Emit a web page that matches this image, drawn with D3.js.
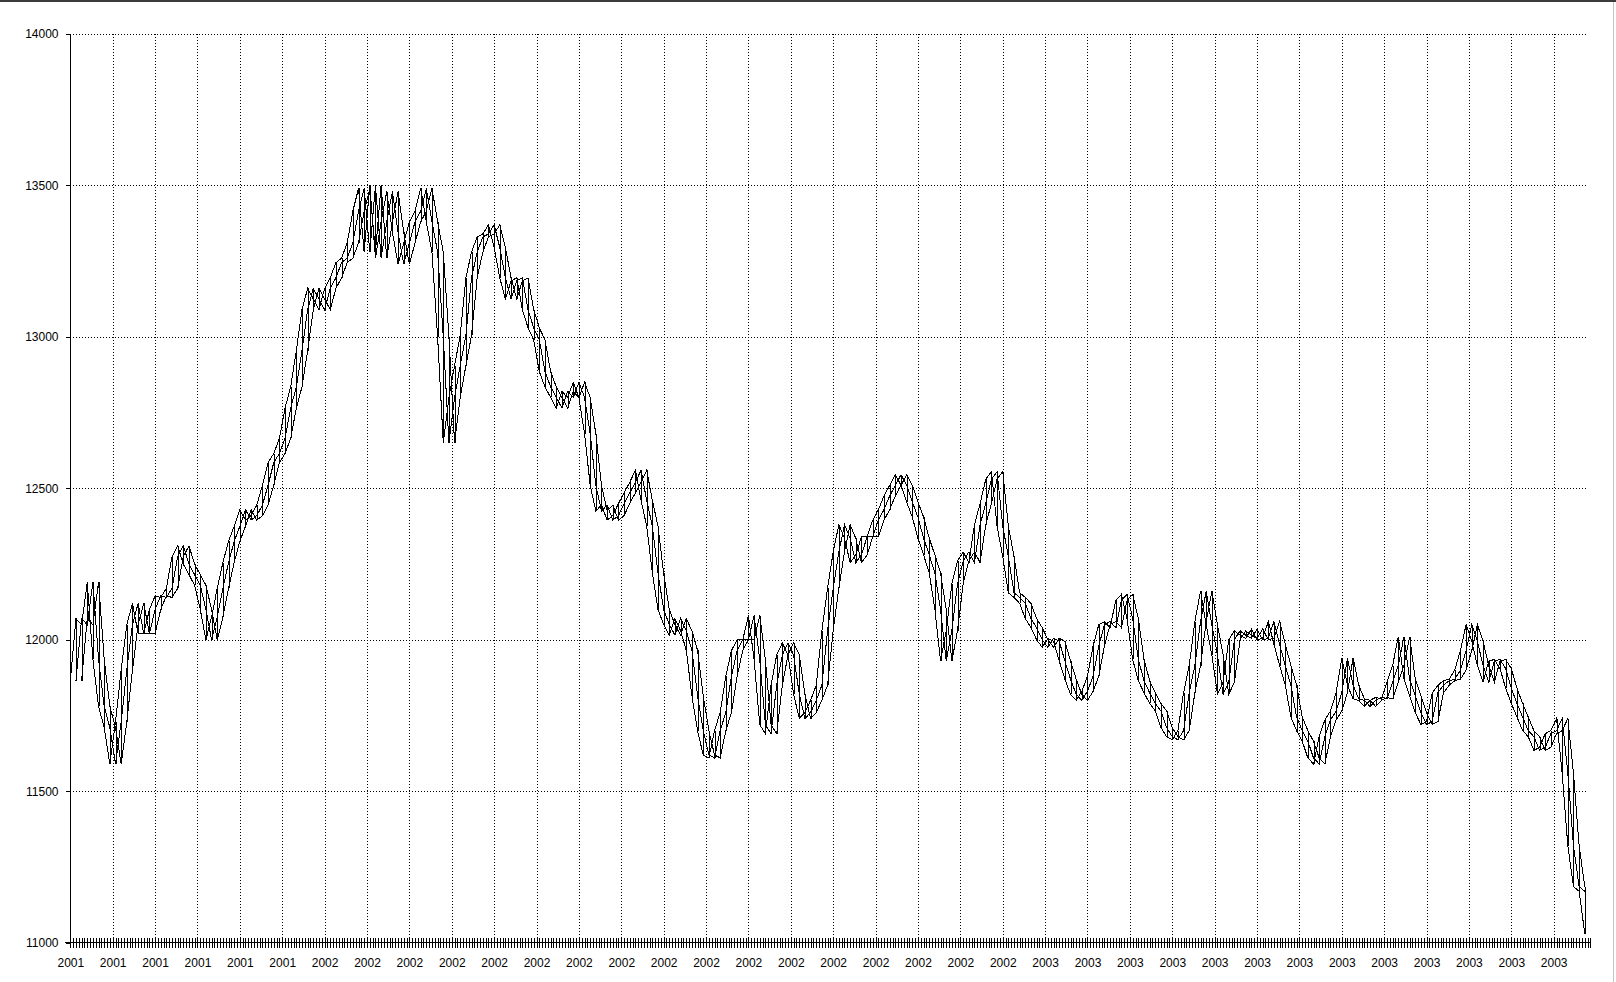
<!DOCTYPE html>
<html><head><meta charset="utf-8">
<script src="https://cdn.jsdelivr.net/npm/d3@7"></script>
<style>
html,body{margin:0;padding:0;background:#fff;}
svg{display:block;}
text{font-family:"Liberation Sans",Arial,sans-serif;font-size:12px;fill:#000;}
</style>
</head><body>
<svg id="c" width="1616" height="982"></svg>
<script>
// ---- data ----
const yTickValues = [11000, 11500, 12000, 12500, 13000, 13500, 14000];
const xLabelYears = [
  "2001","2001","2001","2001","2001","2001",
  "2002","2002","2002","2002","2002","2002","2002","2002","2002","2002","2002","2002","2002","2002","2002","2002","2002",
  "2003","2003","2003","2003","2003","2003","2003","2003","2003","2003","2003","2003","2003"
];
const daysPerLabel = 15;       // trading days between year labels
const tradingDays = 538;       // number of trading-day ticks on the axis
const sampleStep = 2;          // values below are read every 2nd trading day
const closeValues = [
11865,12070,12050,12190,11935,11780,11710,11590,11730,11900,
12050,12120,12020,12020,12100,12145,12140,12170,12275,12310,
12250,12215,12180,12100,12000,12075,12170,12255,12325,12375,
12430,12395,12410,12445,12510,12585,12615,12665,12765,12835,
12955,13090,13160,13125,13090,13160,13195,13245,13260,13310,
13415,13490,13280,13500,13260,13380,13480,13345,13240,13310,
13380,13415,13490,13380,13280,13000,12650,12800,12905,13005,
13195,13280,13330,13340,13370,13295,13195,13125,13185,13195,
13090,13030,12990,12885,12835,12800,12765,12820,12800,12850,
12800,12680,12510,12425,12445,12395,12410,12450,12485,12520,
12560,12460,12375,12220,12100,12050,12015,12070,12030,11965,
11815,11700,11620,11610,11700,11760,11880,11965,12000,12000,
12080,11935,11720,11690,11850,11950,11990,11950,11820,11740,
11760,11800,11850,12030,12170,12290,12380,12335,12255,12280,
12340,12340,12395,12430,12475,12510,12545,12510,12455,12405,
12335,12280,12220,12100,11930,12030,12185,12260,12290,12255,
12380,12450,12530,12555,12375,12275,12155,12140,12120,12070,
12040,12000,11975,12005,11995,11930,11870,11820,11800,11830,
11880,11980,12050,12060,12040,12130,12150,12070,11935,11865,
11825,11790,11765,11710,11680,11670,11700,11825,11915,12060,
12160,12050,11950,11820,11860,12000,12030,12015,12005,12035,
12000,12005,12060,11985,11915,11850,11745,11700,11665,11610,
11590,11680,11735,11765,11825,11940,11850,11805,11800,11780,
11800,11810,11805,11860,11915,12010,11870,11815,11760,11720,
11730,11825,11850,11865,11870,11900,11965,12050,11995,11915,
11860,11930,11935,11905,11840,11790,11745,11700,11680,11635,
11645,11690,11700,11740,11560,11320,11185,11170,11030
];
const lineLags = [0, 1, 2];   // the same series drawn again, lagged by n samples

// ---- chart ----
const svg = d3.select("#c");
const W = 1616, H = 982;
const x = d3.scaleLinear().domain([0, tradingDays - 1]).range([70.3, 1587.6]);
const y = d3.scaleLinear().domain([11000, 14000]).range([942.7, 34]);

// frame
svg.append("rect").attr("x",0).attr("y",0).attr("width",W).attr("height",H).attr("fill","#fff");
svg.append("rect").attr("x",0).attr("y",0).attr("width",W).attr("height",2).attr("fill","#3c3c3c");
svg.append("line").attr("x1",1613.5).attr("x2",1613.5).attr("y1",2).attr("y2",H)
  .attr("stroke","#c4c4c4").attr("stroke-width",1);

// horizontal dotted grid
svg.append("g").selectAll("line").data(yTickValues.slice(1)).join("line")
  .attr("x1", x(0)).attr("x2", x(tradingDays - 1))
  .attr("y1", d => Math.round(y(d)) + 0.5).attr("y2", d => Math.round(y(d)) + 0.5)
  .attr("stroke","#000").attr("stroke-width",1).attr("stroke-dasharray","1,2")
  .attr("shape-rendering","crispEdges");

// vertical dotted grid
const labelIdx = xLabelYears.map((d,i) => i * daysPerLabel);
svg.append("g").selectAll("line").data(labelIdx.slice(1)).join("line")
  .attr("x1", d => Math.round(x(d)) + 0.5).attr("x2", d => Math.round(x(d)) + 0.5)
  .attr("y1", y(14000)).attr("y2", 938)
  .attr("stroke","#000").attr("stroke-width",1).attr("stroke-dasharray","1,2")
  .attr("shape-rendering","crispEdges");

// y axis
const yAxis = d3.axisLeft(y).tickValues(yTickValues).tickSize(5).tickPadding(7)
  .tickFormat(d3.format("d"));
const gy = svg.append("g").attr("transform","translate(70.5,0)").call(yAxis);
gy.select(".domain").remove();
gy.selectAll("line").attr("shape-rendering","crispEdges");
gy.selectAll("text").attr("font-size",12).attr("font-family","Liberation Sans, Arial, sans-serif");
svg.append("line").attr("x1",70.5).attr("x2",70.5).attr("y1",y(14000)).attr("y2",y(11000))
  .attr("stroke","#000").attr("shape-rendering","crispEdges");

// x axis: a tick per trading day
const xTicks = d3.axisBottom(x).tickValues(d3.range(0, tradingDays + 1)).tickSize(10).tickFormat("");
const gx = svg.append("g").attr("transform","translate(0,937.5)").call(xTicks);
gx.select(".domain").remove();
gx.selectAll("line").attr("shape-rendering","crispEdges");
svg.append("line").attr("x1",65).attr("x2",x(tradingDays)).attr("y1",942.5).attr("y2",942.5)
  .attr("stroke","#000").attr("shape-rendering","crispEdges");

// x labels
const xLab = d3.axisBottom(x).tickValues(labelIdx).tickSize(0).tickPadding(3)
  .tickFormat((d) => xLabelYears[d / daysPerLabel]);
const gl = svg.append("g").attr("transform","translate(0,955.5)").call(xLab);
gl.select(".domain").remove();
gl.selectAll("text").attr("font-size",12).attr("font-family","Liberation Sans, Arial, sans-serif");

// series
const pts = closeValues.map((v,k) => ({idx: k * sampleStep, k}));
const line = d3.line().x(d => x(d.idx)).y(d => y(d.v));
const plot = svg.append("g");
const lagVals = d => lineLags.filter(l => d.k - l >= 0).map(l => closeValues[d.k - l]);
// hatch: vertical stroke per sample spanning the lagged lines
plot.selectAll("line.h").data(pts).join("line").attr("class","h")
  .attr("x1", d => Math.round(x(d.idx)) + 0.5).attr("x2", d => Math.round(x(d.idx)) + 0.5)
  .attr("y1", d => y(d3.max(lagVals(d))))
  .attr("y2", d => y(d3.min(lagVals(d))))
  .attr("stroke","#000").attr("stroke-width",1).attr("shape-rendering","crispEdges");
lineLags.forEach(lag => {
  const ser = pts.filter(d => d.k - lag >= 0).map(d => ({idx: d.idx, v: closeValues[d.k - lag]}));
  plot.append("path").datum(ser).attr("d", line)
    .attr("fill","none").attr("stroke","#000").attr("stroke-width",1)
    .attr("shape-rendering","crispEdges");
});
</script>
</body></html>
